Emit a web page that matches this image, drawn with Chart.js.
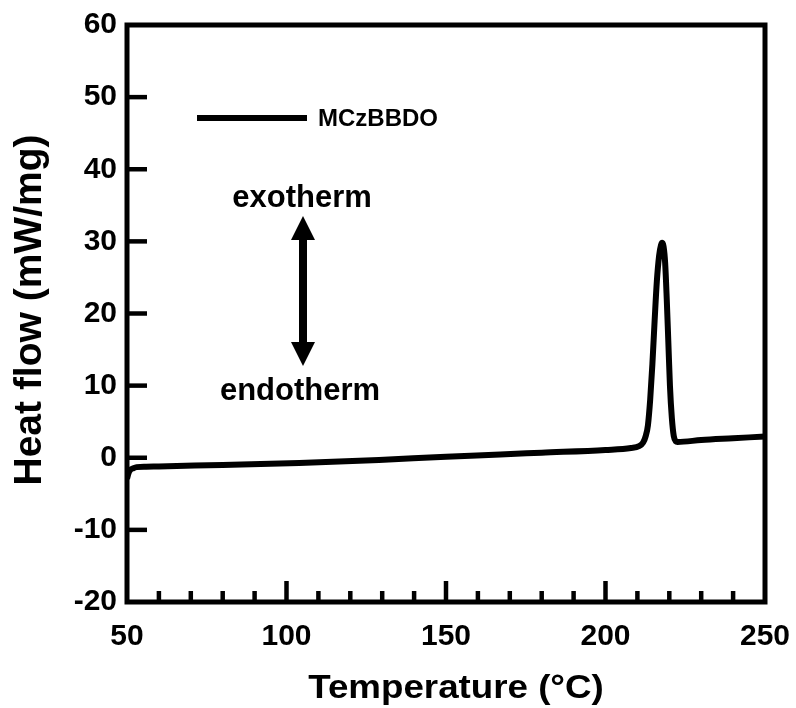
<!DOCTYPE html>
<html>
<head>
<meta charset="utf-8">
<script src="https://cdn.jsdelivr.net/npm/chart.js@4.4.1/dist/chart.umd.min.js"></script>
<style>
html,body{margin:0;padding:0;background:#fff;}
#wrap{width:796px;height:708px;}
</style>
</head>
<body>
<div id="wrap"><canvas id="c" width="796" height="708"></canvas></div>
<script>
// ---- data ----
const seriesName = "MCzBBDO";
const temperature = [50, 50.5, 51, 52, 53, 56, 60, 80, 104, 129, 150, 167, 180, 200, 208, 210.5, 211.8, 212.6, 213.3, 214.0, 214.7, 215.4, 216.1, 216.8, 217.4, 217.8, 218.2, 218.7, 219.2, 219.7, 220.2, 220.8, 221.4, 222.0, 222.6, 230, 240, 250];
const heatFlow = [-2.9, -2.1, -1.7, -1.45, -1.3, -1.25, -1.2, -1.0, -0.73, -0.3, 0.15, 0.45, 0.7, 1.08, 1.35, 1.6, 2.1, 3.0, 4.5, 8, 13, 19, 24.5, 28, 29.5, 29.8, 29.3, 27, 22, 16, 10, 5.5, 3.0, 2.3, 2.2, 2.45, 2.7, 2.95];
const xTitle = "Temperature (°C)";
const yTitle = "Heat flow (mW/mg)";
const xRange = [50, 250];
const yRange = [-20, 60];
const xMajorStep = 50, xMinorStep = 10, yMajorStep = 10;
const annotTop = "exotherm";
const annotBottom = "endotherm";

const FONT = '"Liberation Sans", Arial, Helvetica, sans-serif';

const points = temperature.map((t, i) => ({x: t, y: heatFlow[i]}));

const decor = {
  id: 'decor',
  afterDraw(chart) {
    const ctx = chart.ctx;
    const a = chart.chartArea;
    const xs = chart.scales.x, ys = chart.scales.y;
    ctx.save();
    ctx.strokeStyle = '#000';
    ctx.fillStyle = '#000';
    ctx.lineCap = 'butt';
    // inward ticks
    ctx.lineWidth = 4.5;
    for (let v = xRange[0] + xMinorStep; v < xRange[1]; v += xMinorStep) {
      const px = xs.getPixelForValue(v);
      const len = (v % xMajorStep === 0) ? 21 : 11;
      ctx.beginPath(); ctx.moveTo(px, a.bottom); ctx.lineTo(px, a.bottom - len); ctx.stroke();
    }
    for (let v = yRange[0] + yMajorStep; v < yRange[1]; v += yMajorStep) {
      const py = ys.getPixelForValue(v);
      ctx.beginPath(); ctx.moveTo(a.left, py); ctx.lineTo(a.left + 20, py); ctx.stroke();
    }
    // frame
    ctx.lineWidth = 5;
    ctx.lineJoin = 'miter';
    ctx.strokeRect(a.left, a.top, a.right - a.left, a.bottom - a.top);

    // legend
    const ds = chart.data.datasets[0];
    ctx.lineWidth = 6;
    ctx.beginPath(); ctx.moveTo(197, 118); ctx.lineTo(307, 118); ctx.stroke();
    ctx.font = 'bold 24px ' + FONT;
    ctx.textAlign = 'left'; ctx.textBaseline = 'middle';
    ctx.fillText(ds.label, 318, 119);

    const text = (txt, cx, by, size, sx) => {
      ctx.save();
      ctx.translate(cx, by); ctx.scale(sx, 1);
      ctx.font = 'bold ' + size + 'px ' + FONT;
      ctx.textAlign = 'center'; ctx.textBaseline = 'alphabetic';
      ctx.fillText(txt, 0, 0);
      ctx.restore();
    };
    text(annotTop, 302, 207, 31, 1);
    text(annotBottom, 300, 400, 31, 1);

    // double arrow
    const ax = 303, at = 216, ab = 366, hw = 12, hl = 24;
    ctx.lineWidth = 8;
    ctx.beginPath(); ctx.moveTo(ax, at + hl - 2); ctx.lineTo(ax, ab - hl + 2); ctx.stroke();
    ctx.beginPath(); ctx.moveTo(ax, at); ctx.lineTo(ax + hw, at + hl); ctx.lineTo(ax - hw, at + hl); ctx.closePath(); ctx.fill();
    ctx.beginPath(); ctx.moveTo(ax, ab); ctx.lineTo(ax + hw, ab - hl); ctx.lineTo(ax - hw, ab - hl); ctx.closePath(); ctx.fill();

    // axis titles
    text(xTitle, 456, 698, 34, 1.08);
    ctx.save();
    ctx.translate(41, 310); ctx.rotate(-Math.PI / 2);
    ctx.font = 'bold 39px ' + FONT;
    ctx.textAlign = 'center'; ctx.textBaseline = 'alphabetic';
    ctx.fillText(yTitle, 0, 0);
    ctx.restore();
    ctx.restore();
  }
};

new Chart(document.getElementById('c'), {
  type: 'line',
  data: {
    datasets: [{
      label: seriesName,
      data: points,
      borderColor: '#000',
      backgroundColor: '#000',
      borderWidth: 6,
      pointRadius: 0,
      cubicInterpolationMode: 'monotone',
      fill: false
    }]
  },
  options: {
    responsive: false,
    animation: false,
    devicePixelRatio: 1,
    layout: {padding: {top: 25, right: 31, left: 0, bottom: 0}},
    plugins: {legend: {display: false}, tooltip: {enabled: false}},
    scales: {
      x: {
        type: 'linear', min: xRange[0], max: xRange[1],
        grid: {display: false, drawTicks: false},
        border: {display: false},
        ticks: {stepSize: xMajorStep, color: '#000', padding: 17, font: {family: FONT, size: 30, weight: 'bold'}},
        afterFit(s) { s.height = 106; s.paddingLeft = 0; s.paddingRight = 0; }
      },
      y: {
        type: 'linear', min: yRange[0], max: yRange[1],
        grid: {display: false, drawTicks: false},
        border: {display: false},
        ticks: {stepSize: yMajorStep, color: '#000', padding: 10, font: {family: FONT, size: 30, weight: 'bold'}},
        afterFit(s) { s.width = 127; s.paddingTop = 0; s.paddingBottom = 0; }
      }
    }
  },
  plugins: [decor]
});
</script>
</body>
</html>
